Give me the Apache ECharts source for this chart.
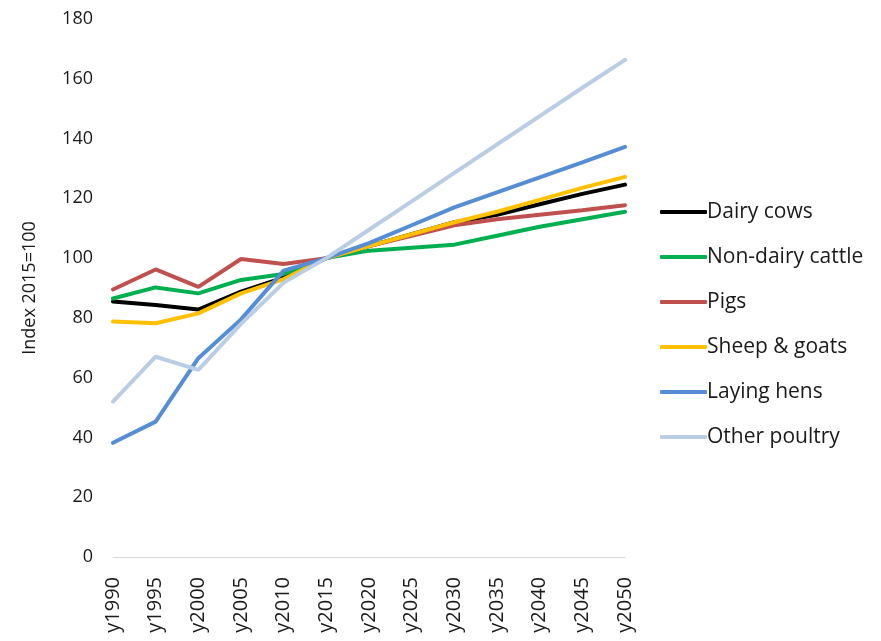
<!DOCTYPE html>
<html>
<head>
<meta charset="utf-8">
<script src="https://cdn.jsdelivr.net/npm/echarts@6/dist/echarts.min.js"></script>
<style>
  html, body { margin: 0; padding: 0; background: #fff; }
  #chart { width: 881px; height: 641px; }
</style>
</head>
<body>
<div id="chart"></div>
<script>
const years = ['y1990', 'y1995', 'y2000', 'y2005', 'y2010', 'y2015', 'y2020',
  'y2025', 'y2030', 'y2035', 'y2040', 'y2045', 'y2050']

const dairyCows = [85.5, 84.3, 82.8, 88.8, 93.5, 100, 104, 108, 112, 114.5, 118, 121.5, 124.6]
const nonDairyCattle = [86.5, 90.2, 88.2, 92.7, 94.7, 100, 102.5, 103.5, 104.5, 107.5, 110.5, 113, 115.5]
const pigs = [89.5, 96.2, 90.4, 99.7, 98, 100, 104, 107.5, 111, 113, 114.5, 116, 117.7]
const sheepGoats = [78.8, 78.2, 81.5, 88.2, 93, 100, 104, 108, 112, 115.5, 119.5, 123.5, 127.2]
const layingHens = [38.2, 45.3, 66.5, 79.5, 95.8, 100, 105, 111, 117, 122, 127, 132, 137.2]
const otherPoultry = [52, 67, 62.6, 78, 91.8, 100, 109.5, 119, 128.5, 138, 147.5, 157, 166.3]

const yTicks = { min: 0, max: 180, interval: 20 }

const font = 'Open Sans'

const mkSeries = (name, data, color) => ({
  name: name,
  type: 'line',
  data: data,
  showSymbol: false,
  symbol: 'none',
  lineStyle: { color: color, width: 4, cap: 'round' },
  itemStyle: { color: color }
})

const chart = echarts.init(document.getElementById('chart'))
chart.setOption({
  backgroundColor: '#fff',
  animation: false,
  grid: { left: 113, right: 256, top: 19, bottom: 84 },
  legend: {
    orient: 'vertical',
    left: 655,
    top: 196,
    icon: 'roundRect',
    itemWidth: 47,
    itemHeight: 4,
    itemGap: 23,
    textStyle: { fontFamily: font, fontSize: 21, lineHeight: 22, color: '#1a1a1a', padding: [0, 0, 0, -5] },
    data: ['Dairy cows', 'Non-dairy cattle', 'Pigs', 'Sheep & goats', 'Laying hens', 'Other poultry']
  },
  xAxis: {
    type: 'category',
    data: years,
    boundaryGap: false,
    axisTick: { show: false },
    axisLine: { lineStyle: { color: '#d9d9d9', width: 1 } },
    axisLabel: { rotate: 90, fontFamily: font, fontSize: 20, color: '#1a1a1a', margin: 20, interval: 0 }
  },
  yAxis: {
    type: 'value',
    min: yTicks.min,
    max: yTicks.max,
    interval: yTicks.interval,
    name: 'Index 2015=100',
    nameLocation: 'middle',
    nameGap: 74,
    nameTextStyle: { fontFamily: font, fontSize: 18, color: '#1a1a1a' },
    axisLine: { show: false },
    axisTick: { show: false },
    splitLine: { show: false },
    axisLabel: { fontFamily: font, fontSize: 18, color: '#1a1a1a', margin: 20 }
  },
  series: [
    mkSeries('Dairy cows', dairyCows, '#000000'),
    mkSeries('Non-dairy cattle', nonDairyCattle, '#00B050'),
    mkSeries('Pigs', pigs, '#C0504D'),
    mkSeries('Sheep & goats', sheepGoats, '#FFC000'),
    mkSeries('Laying hens', layingHens, '#558ED5'),
    mkSeries('Other poultry', otherPoultry, '#B9CDE5')
  ]
})
</script>
</body>
</html>
